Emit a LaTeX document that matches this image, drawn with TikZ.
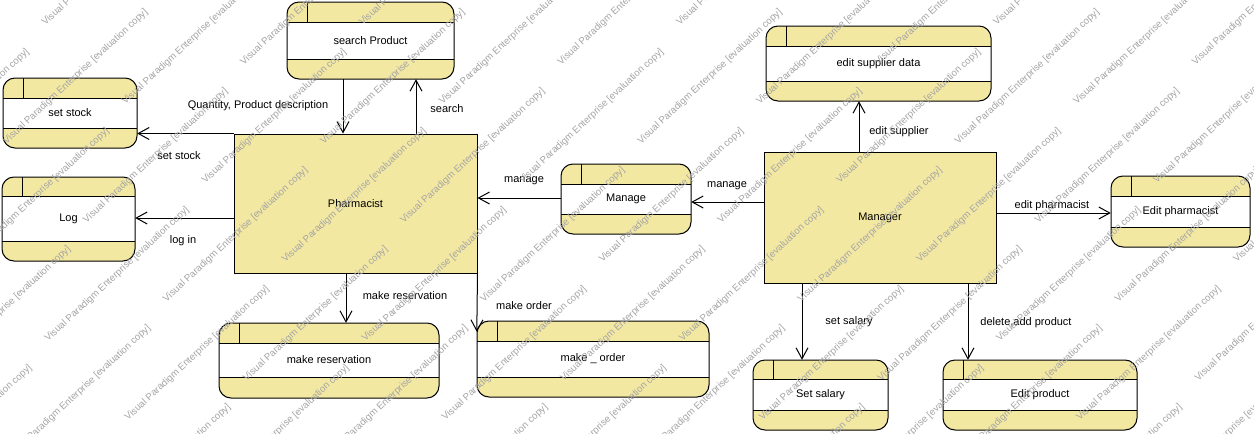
\documentclass[tikz,border=0pt]{standalone}
\usepackage{fontspec}
\setmainfont{Liberation Sans}
\usetikzlibrary{arrows.meta,calc}
\definecolor{dfdyellow}{RGB}{243,232,162}
\definecolor{wmgray}{RGB}{165,165,165}
\tikzset{
  txt/.style={font=\fontsize{11}{13}\selectfont, inner sep=0pt, text=black},
  flow/.style={draw=black, line width=1pt, -{Straight Barb[length=11pt,width=12pt]}},
  entity/.style={draw=black, line width=1pt, fill=dfdyellow, inner sep=0pt, font=\fontsize{11}{13}\selectfont},
  wm/.style={rotate=42.9, anchor=base west, inner sep=0pt, text=wmgray, font=\fontsize{9.7}{11}\selectfont},
  shell/.style={inner sep=0pt, draw=none}
}
% name, x1, y1, x2, y2, header line y, footer line y, text
\newcommand{\dfdproc}[8]{%
  \fill[dfdyellow, rounded corners=12pt] (#2,#3) rectangle (#4,#5);
  \fill[white] (#2,#6) rectangle (#4,#7);
  \draw[line width=1pt] (#2,#6) -- (#4,#6) (#2,#7) -- (#4,#7) ({#2+20},#3) -- ({#2+20},#6);
  \draw[line width=1pt, rounded corners=12pt] (#2,#3) rectangle (#4,#5);
  \node[shell, minimum width={(#4-#2)*1pt}, minimum height={(#5-#3)*1pt}] (#1) at ({(#2+#4)/2},{(#3+#5)/2}) {};
  \node[txt] (#1-t) at ({(#2+#4)/2},{(#6+#7)/2}) {#8};
}
\begin{document}
\begin{tikzpicture}[x=1pt,y=-1pt]
\useasboundingbox (0,0) rectangle (1254,434);
\fill[white] (0,0) rectangle (1254,434);

% processes
\dfdproc{sp}{287}{2}{454}{79}{22}{59}{search Product}
\dfdproc{ss}{3}{78}{137}{148}{98}{128}{set stock}
\dfdproc{lg}{2}{177}{135}{261}{196}{241}{Log}
\dfdproc{mr}{219}{323}{439}{398}{343}{377}{make reservation}
\dfdproc{mo}{477}{321}{709}{397}{341}{377}{make \_ order}
\dfdproc{mg}{561}{164}{691}{234}{184}{214}{Manage}
\dfdproc{es}{766}{26}{991}{101}{46}{81}{edit supplier data}
\dfdproc{ep}{1111}{176}{1250}{247}{196}{227}{Edit pharmacist}
\dfdproc{sl}{753}{360}{888}{430}{379}{410}{Set salary}
\dfdproc{epd}{943}{360}{1137}{430}{379}{410}{Edit product}

% external entities
\node[entity, minimum width=243pt, minimum height=139pt] (ph) at (355.5,203.5) {Pharmacist};
\node[entity, minimum width=232pt, minimum height=131pt] (mn) at (880,217.5) {Manager};

% guide coordinates for connector positions
\coordinate (xq) at (343,0);
\coordinate (xs) at (416,0);
\coordinate (xr) at (346,0);
\coordinate (xe) at (859,0);
\coordinate (xsl) at (802,0);
\coordinate (xpd) at (968,0);
\coordinate (ylog) at (0,218);
\coordinate (ymp) at (0,198);
\coordinate (ymm) at (0,202);
\coordinate (yep) at (0,213);

% connectors
\draw[flow] (ph.north west) -- (ph.north west -| ss.east);
\draw[flow] (xq |- sp.south) -- (xq |- ph.north);
\draw[flow] (xs |- ph.north) -- (xs |- sp.south);
\draw[flow] (ph.west |- ylog) -- (lg.east |- ylog);
\draw[flow] (xr |- ph.south) -- (xr |- mr.north);
\draw[flow] (ph.south east) -- ([yshift=-11pt]mo.north west);
\draw[flow] (mg.west |- ymp) -- (ph.east |- ymp);
\draw[flow] (mn.west |- ymm) -- (mg.east |- ymm);
\draw[flow] (xe |- mn.north) -- (xe |- es.south);
\draw[flow] (mn.east |- yep) -- (ep.west |- yep);
\draw[flow] (xsl |- mn.south) -- (xsl |- sl.north);
\draw[flow] (xpd |- mn.south) -- (xpd |- epd.north);

% connector labels
\node[txt] (l1) at (258,106) {Quantity, Product description};
\node[txt] (l2) at (179,156) {set stock};
\node[txt] (l3) at (447,109) {search};
\node[txt] (l4) at (183,241) {log in};
\node[txt] (l5) at (405,296) {make reservation};
\node[txt] (l6) at (524,306) {make order};
\node[txt] (l7) at (524,181) {manage};
\node[txt] (l8) at (727,186) {manage};
\node[txt] (l9) at (899,132) {edit supplier};
\node[txt] (l10) at (1052,206) {edit pharmacist};
\node[txt] (l11) at (849,322) {set salary};
\node[txt] (l12) at (1026,323) {delete,add product};

% watermark
\begin{scope}
\clip (0,0) rectangle (1254,434);
\foreach \m in {-6,...,14}{
  \foreach \n in {-8,...,8}{
    \node[wm] (wm-\m-\n) at ({48+118.6*\m+80*\n},{342-39.5*\m+79*\n}) {Visual Paradigm Enterprise [evaluation copy]};
  }
}
\end{scope}
\end{tikzpicture}
\end{document}
